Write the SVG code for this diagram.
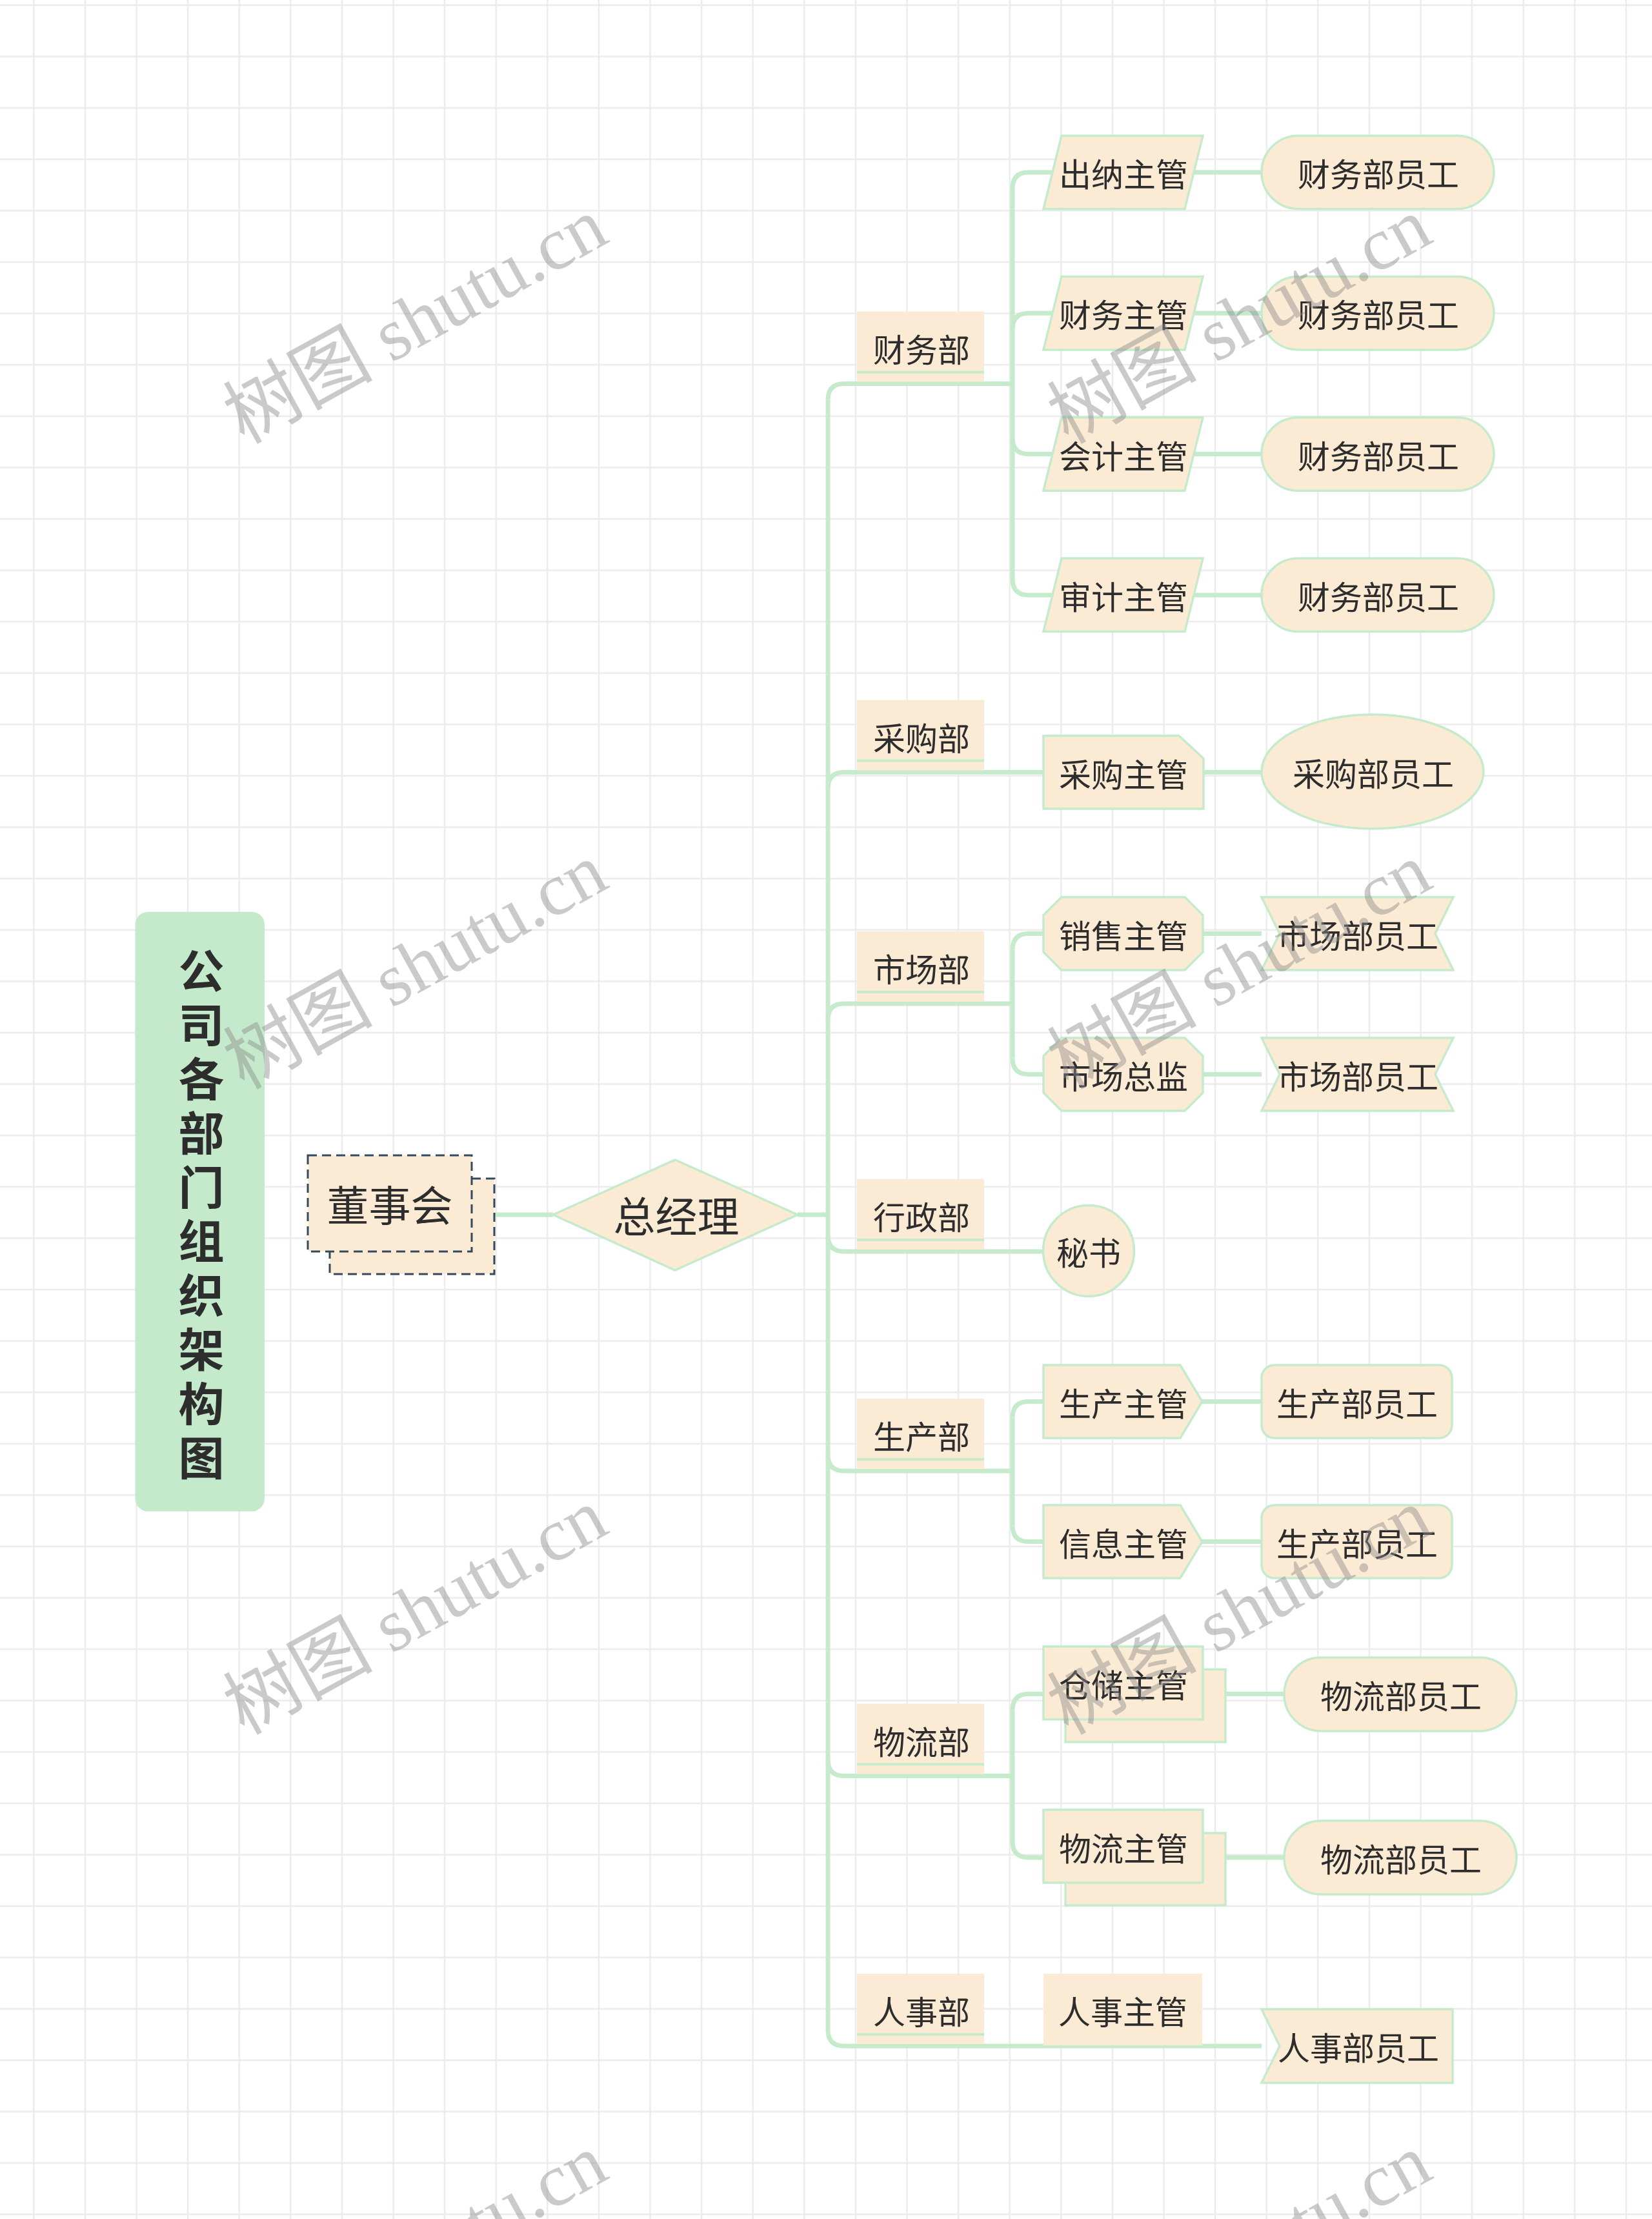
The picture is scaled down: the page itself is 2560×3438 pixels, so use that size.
<svg xmlns="http://www.w3.org/2000/svg" width="2560" height="3438" viewBox="0 0 2560 3438">
<defs>
<style>
.bg{fill:#ffffff}
.conn{fill:none;stroke:#c5ebcc;stroke-width:7;stroke-linecap:butt}
.node{fill:#fcebd4;stroke:#c5ebcc;stroke-width:3.5}
.plain{fill:#fcebd4;stroke:none}
.uline{stroke:#c5ebcc;stroke-width:4}
.dash{fill:#fcebd4;stroke:#34495e;stroke-width:3;stroke-dasharray:14 8}
.t{font-family:"Noto Sans CJK SC","Noto Sans",sans-serif;fill:#2d2d2d;text-anchor:middle;dominant-baseline:central}
.t50{font-size:50px}
.t64{font-size:65px}
.title{font-family:"Noto Sans CJK SC",sans-serif;font-weight:700;font-size:71px;fill:#2d2d2d;text-anchor:middle;writing-mode:vertical-rl;letter-spacing:12.8px}
.wm{font-family:"Liberation Serif","Noto Sans CJK SC",serif;font-size:116px;fill:#8c8c8c;opacity:0.45}
</style>
<pattern id="grid" patternUnits="userSpaceOnUse" x="12.5" y="-31.8" width="79.6" height="79.6">
<path d="M39.8 0 V79.6 M0 39.8 H79.6" stroke="#ebebeb" stroke-width="2.5" fill="none"/>
</pattern>
</defs>
<rect class="bg" x="0" y="0" width="2560" height="3438"/>
<rect x="0" y="0" width="2560" height="3438" fill="url(#grid)"/>

<g id="connectors">
<path class="conn" d="M766 1882 H857"/>
<path class="conn" d="M1236 1882 H1283"/>
<path class="conn" d="M1283 619.5 V3145"/>
<path class="conn" d="M1283 619.5 Q1283 594.5 1308 594.5 H1569"/>
<path class="conn" d="M1283 1221.5 Q1283 1196.5 1308 1196.5 H1955"/>
<path class="conn" d="M1283 1580 Q1283 1555 1308 1555 H1569"/>
<path class="conn" d="M1283 1914 Q1283 1939 1308 1939 H1617"/>
<path class="conn" d="M1283 2254 Q1283 2279 1308 2279 H1569"/>
<path class="conn" d="M1283 2726.5 Q1283 2751.5 1308 2751.5 H1569"/>
<path class="conn" d="M1283 3145 Q1283 3170 1308 3170 H1955"/>
<path class="conn" d="M1569 292 V896.9"/>
<path class="conn" d="M1569 292 Q1569 267 1594 267 H1955"/>
<path class="conn" d="M1569 510.3 Q1569 485.3 1594 485.3 H1955"/>
<path class="conn" d="M1569 678.6 Q1569 703.6 1594 703.6 H1955"/>
<path class="conn" d="M1569 896.9 Q1569 921.9 1594 921.9 H1955"/>
<path class="conn" d="M1569 1471.5 V1639.5"/>
<path class="conn" d="M1569 1471.5 Q1569 1446.5 1594 1446.5 H1955"/>
<path class="conn" d="M1569 1639.5 Q1569 1664.5 1594 1664.5 H1955"/>
<path class="conn" d="M1569 2196.5 V2363.5"/>
<path class="conn" d="M1569 2196.5 Q1569 2171.5 1594 2171.5 H1955"/>
<path class="conn" d="M1569 2363.5 Q1569 2388.5 1594 2388.5 H1955"/>
<path class="conn" d="M1569 2649.5 V2853"/>
<path class="conn" d="M1569 2649.5 Q1569 2624.5 1594 2624.5 H1990"/>
<path class="conn" d="M1569 2853 Q1569 2878 1594 2878 H1990"/>
</g>

<g id="node-title">
<rect x="209.5" y="1412.7" width="200.5" height="929" rx="20" fill="#c4eacb"/>
<text class="title" x="312" y="1887">公司各部门组织架构图</text>
</g>

<g id="node-board">
<rect class="dash" x="511" y="1826" width="255" height="148"/>
<rect class="dash" x="477" y="1790" width="254" height="149"/>
<text class="t t64" x="604" y="1864">董事会</text>
</g>

<g id="node-gm">
<polygon class="node" points="857,1882 1046,1797 1236,1882 1046,1968"/>
<text class="t t64" x="1048" y="1881">总经理</text>
</g>

<g id="dept-caiwu">
<rect class="plain" x="1328" y="482.5" width="197" height="109"/>
<line class="uline" x1="1328" y1="576.5" x2="1525" y2="576.5"/>
<text class="t t50" x="1428" y="538.5">财务部</text>
</g>
<g id="dept-caigou">
<rect class="plain" x="1328" y="1084.5" width="197" height="109"/>
<line class="uline" x1="1328" y1="1178.5" x2="1525" y2="1178.5"/>
<text class="t t50" x="1428" y="1140.5">采购部</text>
</g>
<g id="dept-shichang">
<rect class="plain" x="1328" y="1443" width="197" height="109"/>
<line class="uline" x1="1328" y1="1537" x2="1525" y2="1537"/>
<text class="t t50" x="1428" y="1499">市场部</text>
</g>
<g id="dept-xingzheng">
<rect class="plain" x="1328" y="1827" width="197" height="109"/>
<line class="uline" x1="1328" y1="1921" x2="1525" y2="1921"/>
<text class="t t50" x="1428" y="1883">行政部</text>
</g>
<g id="dept-shengchan">
<rect class="plain" x="1328" y="2167" width="197" height="109"/>
<line class="uline" x1="1328" y1="2261" x2="1525" y2="2261"/>
<text class="t t50" x="1428" y="2223">生产部</text>
</g>
<g id="dept-wuliu">
<rect class="plain" x="1328" y="2639.5" width="197" height="109"/>
<line class="uline" x1="1328" y1="2733.5" x2="1525" y2="2733.5"/>
<text class="t t50" x="1428" y="2695.5">物流部</text>
</g>
<g id="dept-renshi">
<rect class="plain" x="1328" y="3058" width="197" height="109"/>
<line class="uline" x1="1328" y1="3152" x2="1525" y2="3152"/>
<text class="t t50" x="1428" y="3114">人事部</text>
</g>

<g id="mgr-chuna">
<polygon class="node" points="1645,210.2 1864,210.2 1836,323.8 1617,323.8"/>
<text class="t t50" x="1741" y="267">出纳主管</text>
</g>
<g id="mgr-caiwu">
<polygon class="node" points="1645,428.5 1864,428.5 1836,542 1617,542"/>
<text class="t t50" x="1741" y="485.3">财务主管</text>
</g>
<g id="mgr-kuaiji">
<polygon class="node" points="1645,646.8 1864,646.8 1836,760.3 1617,760.3"/>
<text class="t t50" x="1741" y="703.6">会计主管</text>
</g>
<g id="mgr-shenji">
<polygon class="node" points="1645,865.1 1864,865.1 1836,978.6 1617,978.6"/>
<text class="t t50" x="1741" y="921.9">审计主管</text>
</g>
<g id="mgr-caigou">
<path class="node" d="M1617 1140 H1827 L1865 1175 V1253 H1617 Z"/>
<text class="t t50" x="1741" y="1197">采购主管</text>
</g>
<g id="mgr-xiaoshou">
<path class="node" d="M1645 1390 H1836 L1864 1418 V1475 L1836 1503 H1645 L1617 1475 V1418 Z"/>
<text class="t t50" x="1741" y="1446.5">销售主管</text>
</g>
<g id="mgr-zongjian">
<path class="node" d="M1645 1608 H1836 L1864 1636 V1693 L1836 1721 H1645 L1617 1693 V1636 Z"/>
<text class="t t50" x="1741" y="1664.5">市场总监</text>
</g>
<g id="mgr-mishu">
<circle class="node" cx="1687" cy="1938" r="70.5"/>
<text class="t t50" x="1687" y="1938">秘书</text>
</g>
<g id="mgr-shengchan">
<path class="node" d="M1617 2115 H1829 L1863 2171.5 L1829 2228 H1617 Z"/>
<text class="t t50" x="1741" y="2171.5">生产主管</text>
</g>
<g id="mgr-xinxi">
<path class="node" d="M1617 2332 H1829 L1863 2388.5 L1829 2445 H1617 Z"/>
<text class="t t50" x="1741" y="2388.5">信息主管</text>
</g>
<g id="mgr-cangchu">
<rect class="node" x="1651" y="2586.5" width="248" height="112.5"/>
<rect class="node" x="1617" y="2551" width="247" height="113"/>
<text class="t t50" x="1741" y="2607.5">仓储主管</text>
</g>
<g id="mgr-wuliu">
<rect class="node" x="1651" y="2840" width="248" height="112"/>
<rect class="node" x="1617" y="2804" width="247" height="113"/>
<text class="t t50" x="1741" y="2861">物流主管</text>
</g>
<g id="mgr-renshi">
<rect class="plain" x="1617" y="3058" width="246" height="111"/>
<text class="t t50" x="1740" y="3114">人事主管</text>
</g>

<g id="emp-caiwu-1">
<rect class="node" x="1955" y="210.2" width="360" height="113.5" rx="56.75"/>
<text class="t t50" x="2136" y="267">财务部员工</text>
</g>
<g id="emp-caiwu-2">
<rect class="node" x="1955" y="428.5" width="360" height="113.5" rx="56.75"/>
<text class="t t50" x="2136" y="485.3">财务部员工</text>
</g>
<g id="emp-caiwu-3">
<rect class="node" x="1955" y="646.8" width="360" height="113.5" rx="56.75"/>
<text class="t t50" x="2136" y="703.6">财务部员工</text>
</g>
<g id="emp-caiwu-4">
<rect class="node" x="1955" y="865.1" width="360" height="113.5" rx="56.75"/>
<text class="t t50" x="2136" y="921.9">财务部员工</text>
</g>
<g id="emp-caigou">
<ellipse class="node" cx="2127" cy="1195.5" rx="172" ry="88.5"/>
<text class="t t50" x="2128" y="1196">采购部员工</text>
</g>
<g id="emp-shichang-1">
<path class="node" d="M1955 1390 H2252 L2224 1446.5 L2252 1503 H1955 L1983 1446.5 Z"/>
<text class="t t50" x="2104" y="1446.5">市场部员工</text>
</g>
<g id="emp-shichang-2">
<path class="node" d="M1955 1608 H2252 L2224 1664.5 L2252 1721 H1955 L1983 1664.5 Z"/>
<text class="t t50" x="2104" y="1664.5">市场部员工</text>
</g>
<g id="emp-shengchan-1">
<rect class="node" x="1955" y="2115" width="295" height="113" rx="20"/>
<text class="t t50" x="2103" y="2171.5">生产部员工</text>
</g>
<g id="emp-shengchan-2">
<rect class="node" x="1955" y="2332" width="295" height="113" rx="20"/>
<text class="t t50" x="2103" y="2388.5">生产部员工</text>
</g>
<g id="emp-wuliu-1">
<rect class="node" x="1990" y="2568" width="360" height="114" rx="57"/>
<text class="t t50" x="2171" y="2625">物流部员工</text>
</g>
<g id="emp-wuliu-2">
<rect class="node" x="1990" y="2821" width="360" height="114" rx="57"/>
<text class="t t50" x="2171" y="2878">物流部员工</text>
</g>
<g id="emp-renshi">
<path class="node" d="M1955 3113 H2251 V3227 H1955 L1983 3170 Z"/>
<text class="t t50" x="2105" y="3170">人事部员工</text>
</g>

<g id="watermarks">
<text class="wm" x="378" y="689" transform="rotate(-29 378 689)">树图 shutu.cn</text>
<text class="wm" x="1655" y="689" transform="rotate(-29 1655 689)">树图 shutu.cn</text>
<text class="wm" x="378" y="1689" transform="rotate(-29 378 1689)">树图 shutu.cn</text>
<text class="wm" x="1655" y="1689" transform="rotate(-29 1655 1689)">树图 shutu.cn</text>
<text class="wm" x="378" y="2689" transform="rotate(-29 378 2689)">树图 shutu.cn</text>
<text class="wm" x="1655" y="2689" transform="rotate(-29 1655 2689)">树图 shutu.cn</text>
<text class="wm" x="378" y="3689" transform="rotate(-29 378 3689)">树图 shutu.cn</text>
<text class="wm" x="1655" y="3689" transform="rotate(-29 1655 3689)">树图 shutu.cn</text>
</g>
</svg>
